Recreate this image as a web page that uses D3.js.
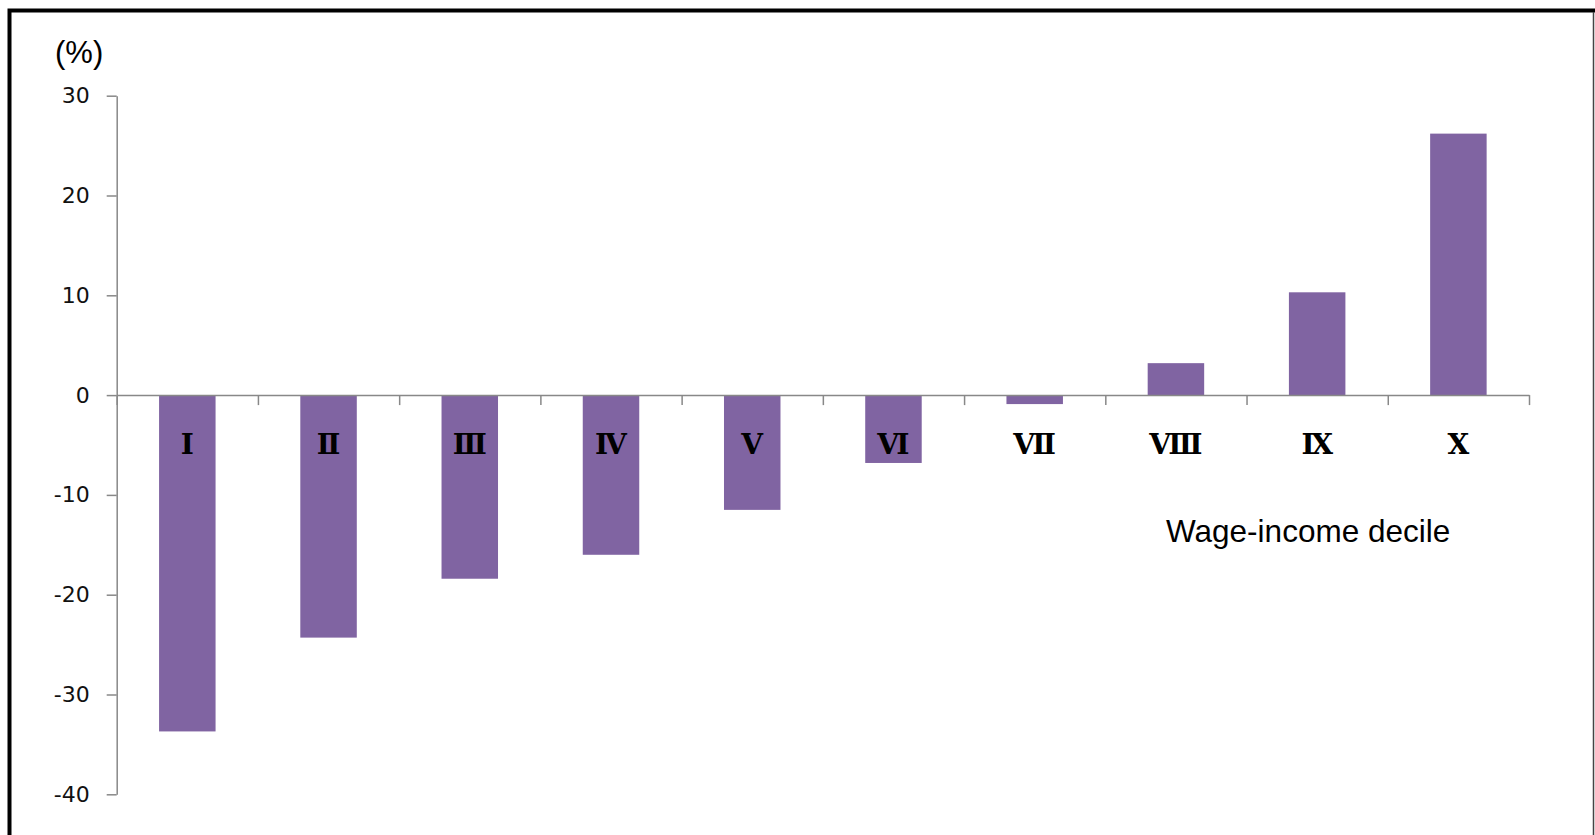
<!DOCTYPE html>
<html>
<head>
<meta charset="utf-8">
<script src="https://cdn.jsdelivr.net/npm/d3@7"></script>
<style>
  body { margin: 0; background: #fff; }
  svg { display: block; }
</style>
</head>
<body>
<svg id="chart" width="1595" height="835"></svg>
<script>
// wage-income deciles and % change
const deciles = ["Ⅰ", "Ⅱ", "Ⅲ", "Ⅳ", "Ⅴ", "Ⅵ", "Ⅶ", "Ⅷ", "Ⅸ", "Ⅹ"];
const changes = [-33.7, -24.3, -18.4, -16.0, -11.5, -6.8, -0.9, 3.2, 10.3, 26.2];
const yTicks = [-40, -30, -20, -10, 0, 10, 20, 30];

const svg = d3.select("#chart");

const plotLeft = 116.7, plotRight = 1529, plotTop = 95.7, plotBottom = 794.3;

const x = d3.scaleBand()
    .domain(deciles)
    .range([plotLeft, plotRight])
    .paddingInner(0.6)
    .paddingOuter(0.3);

// category boundaries for the tick marks
const xEdge = d3.scaleLinear().domain([0, deciles.length]).range([plotLeft, plotRight]);

const y = d3.scaleLinear().domain([-40, 30]).range([plotBottom, plotTop]);

// frame
svg.append("path")
    .attr("d", `M9.5,${835 + 10}V10.5H1596`)
    .attr("fill", "none")
    .attr("stroke", "#000")
    .attr("stroke-width", 4);
svg.append("line")
    .attr("x1", 1593.5).attr("x2", 1593.5)
    .attr("y1", 12).attr("y2", 835)
    .attr("stroke", "#444")
    .attr("stroke-width", 1.5);

// bars
svg.append("g").selectAll("rect")
    .data(changes)
    .join("rect")
    .attr("x", (d, i) => x(deciles[i]))
    .attr("width", x.bandwidth())
    .attr("y", d => y(Math.max(0, d)))
    .attr("height", d => Math.abs(y(d) - y(0)))
    .attr("fill", "#8064A2");

// y axis
const yAxis = svg.append("g")
    .attr("transform", `translate(${plotLeft},0)`)
    .call(d3.axisLeft(y).tickValues(yTicks).tickSize(10).tickSizeOuter(0).tickPadding(17)
        .tickFormat(d => String(d)));
yAxis.select(".domain").attr("stroke", "#888").attr("stroke-width", 1.5);
yAxis.selectAll(".tick line").attr("stroke", "#888").attr("stroke-width", 1.5);
yAxis.selectAll(".tick text")
    .attr("fill", "#111")
    .style("font-family", "'DejaVu Sans', Verdana, sans-serif")
    .style("font-size", "22px");

// x axis at zero
const xAxis = svg.append("g")
    .attr("transform", `translate(0,${y(0)})`)
    .call(d3.axisBottom(xEdge).tickValues(d3.range(deciles.length + 1)).tickSize(10).tickSizeOuter(0).tickFormat(""));
xAxis.select(".domain").attr("stroke", "#888").attr("stroke-width", 1.5);
xAxis.selectAll(".tick line").attr("stroke", "#888").attr("stroke-width", 1.5);

// decile labels
svg.append("g").selectAll("text")
    .data(deciles)
    .join("text")
    .attr("x", d => x(d) + x.bandwidth() / 2)
    .attr("y", 454)
    .attr("text-anchor", "middle")
    .style("font-family", "'DejaVu Serif', 'Liberation Serif', serif")
    .style("font-weight", "bold")
    .style("font-size", "28px")
    .attr("fill", "#000")
    .text(d => d);

// unit and axis title
svg.append("text")
    .attr("x", 55).attr("y", 63)
    .style("font-family", "'Liberation Sans', Arial, sans-serif")
    .style("font-size", "31px")
    .text("(%)");

svg.append("text")
    .attr("x", 1166).attr("y", 542)
    .style("font-family", "'Liberation Sans', Arial, sans-serif")
    .style("font-size", "31.5px")
    .text("Wage-income decile");
</script>
</body>
</html>
